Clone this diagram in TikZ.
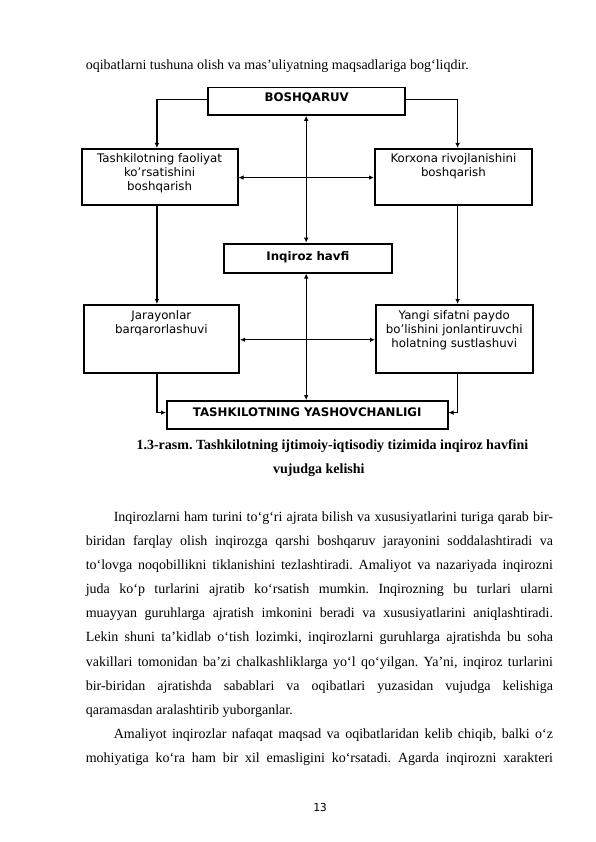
\documentclass[tikz,border=0pt]{standalone}
\usepackage{fontspec}
\setmainfont{Liberation Serif}
\newfontfamily\djfont{DejaVu Sans}
\newfontfamily\djmono{DejaVu Sans Mono}
\usetikzlibrary{arrows.meta}
\frenchspacing
\tikzset{
  box/.style={draw, line width=1.8pt, inner sep=0pt, anchor=north west},
  lbl/.style={inner sep=0pt, anchor=north, align=center, font=\djfont\fontsize{11.8}{14}\selectfont},
  blbl/.style={inner sep=0pt, anchor=base, font=\djfont\bfseries\fontsize{11.8}{14}\selectfont},
  conn/.style={line width=1.4pt, -{Latex[length=5pt,width=4.6pt]}},
  dconn/.style={line width=1.4pt, {Latex[length=5pt,width=4.6pt]}-{Latex[length=5pt,width=4.6pt]}},
  body/.style={inner sep=0pt, anchor=base west, font=\fontsize{14}{16}\selectfont},
  captxt/.style={inner sep=0pt, anchor=base, font=\bfseries\fontsize{14}{16}\selectfont},
  pagenum/.style={inner sep=0pt, anchor=base, font=\djmono\fontsize{11}{13}\selectfont},
}
\newcommand{\jl}[1]{\makebox[467.2pt][s]{#1}}
\newcommand{\jli}[1]{\makebox[439.2pt][s]{#1}}
\begin{document}
\begin{tikzpicture}[x=1pt,y=-1pt]
\useasboundingbox (0,0) rectangle (596,842);
\fill[white] (0,0) rectangle (596,842);

% text above
\node[body] (t0) at (85.6,70) {oqibatlarni tushuna olish va mas’uliyatning maqsadlariga bog‘liqdir.};

% boxes
\node[box, minimum width=197pt, minimum height=27.3pt] (B0) at (207.3,86.7) {};
\node[box, minimum width=156pt, minimum height=56.3pt] (L1) at (80.7,148) {};
\node[box, minimum width=157pt, minimum height=56.3pt] (R1) at (374,148) {};
\node[box, minimum width=167.4pt, minimum height=29pt] (C) at (223.3,242.7) {};
\node[box, minimum width=155.6pt, minimum height=67.7pt] (L2) at (82.7,304) {};
\node[box, minimum width=156.7pt, minimum height=68pt] (R2) at (375,304) {};
\node[box, minimum width=280.7pt, minimum height=28pt] (T) at (166,400) {};

% labels
\node[blbl] (B0t) at ([yshift=-15.3pt]B0.north) {BOSHQARUV};
\node[lbl] (L1t) at ([yshift=-4.2pt]L1.north) {\rule{0pt}{10pt}Tashkilotning faoliyat\\ko’rsatishini\\boshqarish};
\node[lbl] (R1t) at ([yshift=-4.2pt]R1.north) {\rule{0pt}{10pt}Korxona rivojlanishini\\boshqarish};
\node[blbl] (Ct) at ([yshift=-17.3pt]C.north) {Inqiroz havfi};
\node[lbl] (L2t) at ([yshift=-4.9pt]L2.north) {\rule{0pt}{10pt}Jarayonlar\\barqarorlashuvi};
\node[lbl] (R2t) at ([yshift=-4.9pt]R2.north) {\rule{0pt}{10pt}Yangi sifatni paydo\\bo’lishini jonlantiruvchi\\holatning sustlashuvi};
\node[blbl] (Tt) at ([yshift=-16pt]T.north) {TASHKILOTNING YASHOVCHANLIGI};

% connectors
\draw[conn] ([yshift=1.6pt]B0.west) -| ([xshift=-2.7pt]L1.north);
\draw[conn] ([yshift=1.6pt]B0.east) -| ([xshift=4.2pt]R1.north);
\draw[conn] ([xshift=-2.7pt]L1.south) -- ([xshift=-2.7pt]L1.south |- L2.north);
\draw[conn] ([xshift=4.2pt]R1.south) -- ([xshift=4.2pt]R1.south |- R2.north);
\draw[conn] ([xshift=-4.5pt]L2.south) |- ([yshift=2.3pt]T.west);
\draw[conn] ([xshift=3.35pt]R2.south) |- ([yshift=2.3pt]T.east);
\draw[dconn] ([yshift=-0.5pt]L1.east) -- ([yshift=-0.5pt]L1.east -| R1.west);
\draw[dconn] ([yshift=-1pt]L2.east) -- ([yshift=-1pt]L2.east -| R2.west);
\draw[dconn] ([xshift=-0.5pt]B0.south) -- ([xshift=-0.5pt]B0.south |- C.north);
\draw[dconn] ([xshift=-0.5pt]B0.south |- C.south) -- ([xshift=-0.5pt]B0.south |- T.north);

% caption
\node[captxt] (cap1) at (332.4,449) {1.3-rasm. Tashkilotning ijtimoiy-iqtisodiy tizimida inqiroz havfini};
\node[captxt] (cap2) at (318.9,473.2) {vujudga kelishi};

% body text
\node[body] (p1) at (113.6,521.2) {\jli{Inqirozlarni ham turini to‘g‘ri ajrata bilish va xususiyatlarini turiga qarab bir-}};
\node[body] (p2) at (85.6,545.35) {\jl{biridan farqlay olish inqirozga qarshi boshqaruv jarayonini soddalashtiradi va}};
\node[body] (p3) at (85.6,569.5) {\jl{to‘lovga noqobillikni tiklanishini tezlashtiradi. Amaliyot va nazariyada inqirozni}};
\node[body] (p4) at (85.6,593.65) {\jl{juda ko‘p turlarini ajratib ko‘rsatish mumkin. Inqirozning bu turlari ularni}};
\node[body] (p5) at (85.6,617.8) {\jl{muayyan guruhlarga ajratish imkonini beradi va xususiyatlarini aniqlashtiradi.}};
\node[body] (p6) at (85.6,641.95) {\jl{Lekin shuni ta’kidlab o‘tish lozimki, inqirozlarni guruhlarga ajratishda bu soha}};
\node[body] (p7) at (85.6,666.1) {\jl{vakillari tomonidan ba’zi chalkashliklarga yo‘l qo‘yilgan. Ya’ni, inqiroz turlarini}};
\node[body] (p8) at (85.6,690.25) {\jl{bir-biridan ajratishda sabablari va oqibatlari yuzasidan vujudga kelishiga}};
\node[body] (p9) at (85.6,714.4) {qaramasdan aralashtirib yuborganlar.};
\node[body] (p10) at (113.6,738.55) {\jli{Amaliyot inqirozlar nafaqat maqsad va oqibatlaridan kelib chiqib, balki o‘z}};
\node[body] (p11) at (85.6,762.7) {\jl{mohiyatiga ko‘ra ham bir xil emasligini ko‘rsatadi. Agarda inqirozni xarakteri}};

\node[pagenum] (pg) at (320,811) {13};
\end{tikzpicture}
\end{document}
